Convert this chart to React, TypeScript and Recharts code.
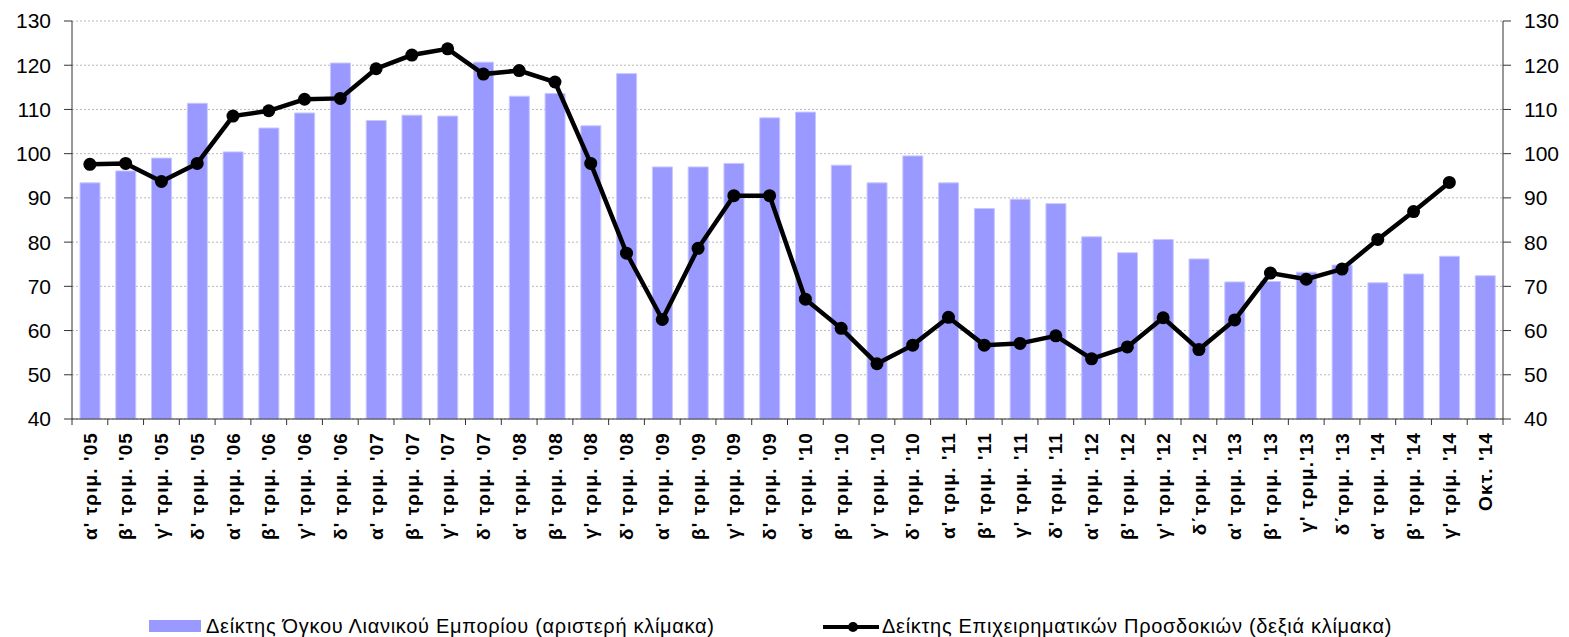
import React from 'react';
import { ComposedChart, Bar, Line, XAxis, YAxis, CartesianGrid } from 'recharts';

// κατηγορίες (τρίμηνα)
const categories = [
  "α' τριμ. '05", "β' τριμ. '05", "γ' τριμ. '05", "δ' τριμ. '05",
  "α' τριμ. '06", "β' τριμ. '06", "γ' τριμ. '06", "δ' τριμ. '06",
  "α' τριμ. '07", "β' τριμ. '07", "γ' τριμ. '07", "δ' τριμ. '07",
  "α' τριμ. '08", "β' τριμ. '08", "γ' τριμ. '08", "δ' τριμ. '08",
  "α' τριμ. '09", "β' τριμ. '09", "γ' τριμ. '09", "δ' τριμ. '09",
  "α' τριμ. '10", "β' τριμ. '10", "γ' τριμ. '10", "δ' τριμ. '10",
  "α' τριμ. '11", "β' τριμ. '11", "γ' τριμ. '11", "δ' τριμ. '11",
  "α' τριμ. '12", "β' τριμ. '12", "γ' τριμ. '12", "δ΄τριμ. '12",
  "α' τριμ. '13", "β' τριμ. '13", "γ' τριμ.'13", "δ΄τριμ. '13",
  "α' τριμ. '14", "β' τριμ. '14", "γ' τρίμ. '14", "Οκτ. '14",
];

// Δείκτης Όγκου Λιανικού Εμπορίου (αριστερή κλίμακα)
const retailVolume = [
  93.4, 96.1, 99.0, 111.4, 100.4, 105.8, 109.2, 120.5, 107.5, 108.7,
  108.5, 120.7, 113.0, 113.6, 106.3, 118.1, 97.0, 97.0, 97.8, 108.1,
  109.4, 97.4, 93.4, 99.5, 93.4, 87.6, 89.7, 88.7, 81.2, 77.6,
  80.6, 76.2, 71.0, 71.1, 73.2, 74.8, 70.8, 72.8, 76.8, 72.4,
];

// Δείκτης Επιχειρηματικών Προσδοκιών (δεξιά κλίμακα)
const businessExpectations: (number | null)[] = [
  97.6, 97.8, 93.7, 97.8, 108.5, 109.7, 112.3, 112.5, 119.2, 122.3,
  123.7, 118.0, 118.8, 116.2, 97.8, 77.5, 62.5, 78.6, 90.5, 90.5,
  67.1, 60.5, 52.5, 56.7, 63.0, 56.7, 57.1, 58.8, 53.6, 56.3,
  62.9, 55.7, 62.4, 73.0, 71.6, 73.9, 80.6, 86.9, 93.5, null,
];

const yTicks = [40, 50, 60, 70, 80, 90, 100, 110, 120, 130];

const data = categories.map((name, i) => ({
  name,
  retail: retailVolume[i],
  expect: businessExpectations[i],
}));

const W = 1569;
const H = 637;
const LEFT_W = 72;
const RIGHT_W = 66;
const BAND = (W - LEFT_W - RIGHT_W) / categories.length;
const FONT = '"Liberation Sans", Arial, sans-serif';

const XTick = (props: any) => {
  const { x, y, payload, index } = props;
  const ty = y + 13;
  return (
    <g>
      <line x1={x - BAND / 2} x2={x - BAND / 2} y1={y} y2={y + 6} stroke="#333" />
      {index === categories.length - 1 && (
        <line x1={x + BAND / 2} x2={x + BAND / 2} y1={y} y2={y + 6} stroke="#333" />
      )}
      <text
        x={x}
        y={ty}
        dy="0.35em"
        transform={`rotate(-90, ${x}, ${ty})`}
        textAnchor="end"
        fontFamily={FONT}
        fontWeight="bold"
        fontSize={19}
        letterSpacing={1.1}
        fill="#000"
      >
        {payload.value}
      </text>
    </g>
  );
};

const legendText: React.CSSProperties = {
  position: 'absolute',
  top: 613,
  fontFamily: FONT,
  fontSize: 20,
  letterSpacing: 0.7,
  lineHeight: '26px',
  color: '#000',
  whiteSpace: 'nowrap',
};

export default function App() {
  return (
    <div style={{ position: 'absolute', left: 0, top: 0, width: W, height: H, background: '#fff' }}>
      <ComposedChart
        width={W}
        height={H}
        data={data}
        margin={{ top: 21, right: 0, left: 0, bottom: 0 }}
        barCategoryGap={8}
      >
        <CartesianGrid yAxisId="left" vertical={false} stroke="#b8b8b8" strokeDasharray="2 2" />
        <XAxis
          dataKey="name"
          interval={0}
          height={218}
          tickSize={0}
          tickMargin={0}
          tickLine={false}
          axisLine={{ stroke: '#333' }}
          tick={<XTick />}
        />
        <YAxis
          yAxisId="left"
          orientation="left"
          width={LEFT_W}
          domain={[40, 130]}
          ticks={yTicks}
          tickSize={8}
          tickMargin={13}
          axisLine={{ stroke: '#333' }}
          tickLine={{ stroke: '#333' }}
          tick={{ fill: '#000', fontSize: 21, fontFamily: FONT }}
        />
        <YAxis
          yAxisId="right"
          orientation="right"
          width={RIGHT_W}
          domain={[40, 130]}
          ticks={yTicks}
          tickSize={8}
          tickMargin={13}
          axisLine={{ stroke: '#333' }}
          tickLine={{ stroke: '#333' }}
          tick={{ fill: '#000', fontSize: 21, fontFamily: FONT }}
        />
        <Bar
          yAxisId="left"
          dataKey="retail"
          fill="#9999ff"
          stroke="#c8c8ff"
          strokeWidth={1}
          barSize={20}
          isAnimationActive={false}
        />
        <Line
          yAxisId="right"
          dataKey="expect"
          stroke="#000"
          strokeWidth={4.5}
          dot={{ r: 6.5, fill: '#000', stroke: '#000', strokeWidth: 0 }}
          activeDot={false}
          isAnimationActive={false}
        />
      </ComposedChart>

      {/* υπόμνημα */}
      <div style={{ position: 'absolute', left: 149, top: 620, width: 52, height: 12, background: '#9999ff' }} />
      <div style={{ ...legendText, left: 206 }}>
        Δείκτης Όγκου Λιανικού Εμπορίου (αριστερή κλίμακα)
      </div>
      <svg style={{ position: 'absolute', left: 822, top: 618 }} width={58} height={18}>
        <line x1={1} x2={57} y1={9} y2={9} stroke="#000" strokeWidth={4} />
        <circle cx={31} cy={9} r={5} fill="#000" />
      </svg>
      <div style={{ ...legendText, left: 882 }}>
        Δείκτης Επιχειρηματικών Προσδοκιών (δεξιά κλίμακα)
      </div>
    </div>
  );
}
